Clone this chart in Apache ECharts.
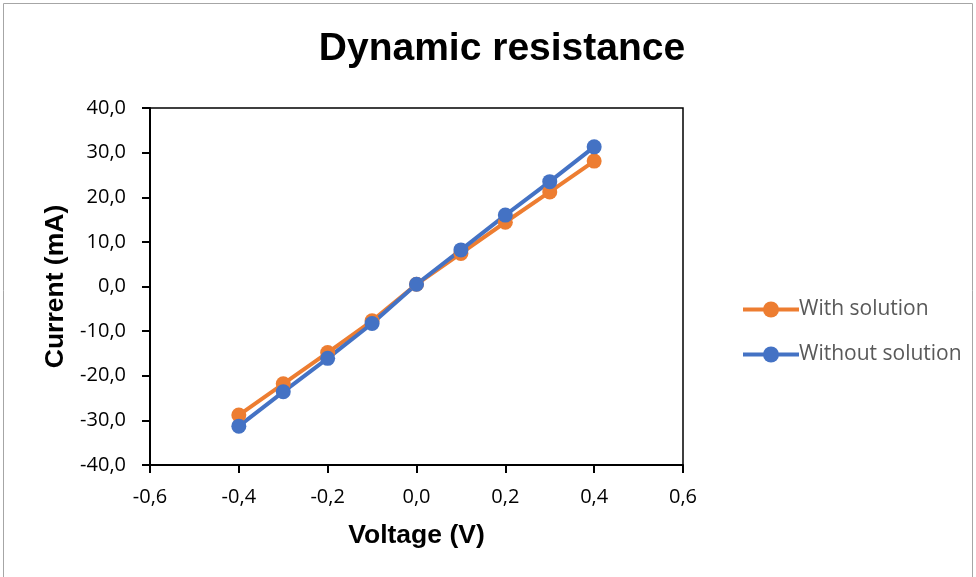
<!DOCTYPE html>
<html><head><meta charset="utf-8">
<script src="https://cdn.jsdelivr.net/npm/echarts@6/dist/echarts.min.js"></script>
<style>html,body{margin:0;padding:0;background:#fff}#c{width:976px;height:577px}</style>
</head><body><div id="c"></div>
<script>
const voltage = [-0.4, -0.3, -0.2, -0.1, 0.0, 0.1, 0.2, 0.3, 0.4];
const withSolution = [-28.8, -21.8, -14.8, -7.7, 0.5, 7.4, 14.4, 21.2, 28.1];
const withoutSolution = [-31.3, -23.6, -16.1, -8.3, 0.5, 8.2, 16.0, 23.5, 31.3];
const seriesNames = ['With solution', 'Without solution'];
const colors = ['#ED7D31', '#4472C4'];

const chart = echarts.init(document.getElementById('c'));
const fmt = v => v.toFixed(1).replace('.', ',');
const font = '"Liberation Sans", Arial, sans-serif';
const tickFont = '"Open Sans", sans-serif';
chart.setOption({
  animation: false,
  backgroundColor: '#fff',
  graphic: [{type:'rect', shape:{x:3.5,y:3.5,width:969,height:575}, style:{fill:'none', stroke:'#a6a6a6', lineWidth:1}}],
  title: {text:'Dynamic resistance', left:497, top:25, textAlign:'center',
    textStyle:{fontFamily:font, fontSize:39, fontWeight:'bold', color:'#000'}},
  grid: {left:150, top:108, width:533, height:357, show:true, borderColor:'#000', borderWidth:1.5, backgroundColor:'transparent'},
  legend: {orient:'vertical', left:736, top:294, itemGap:24, itemWidth:56, itemHeight:20,
    lineStyle:{width:4},
    textStyle:{fontFamily:tickFont, fontSize:21, color:'#595959', padding:[0,0,0,-5]},
    data: seriesNames},
  xAxis: {type:'value', min:-0.6, max:0.6, interval:0.2,
    name:'Voltage (V)', nameLocation:'middle', nameGap:57,
    nameTextStyle:{fontFamily:font, fontSize:26.5, fontWeight:'bold', color:'#000'},
    axisLine:{onZero:false, lineStyle:{color:'#000', width:2}},
    axisTick:{show:true, length:8, lineStyle:{color:'#000', width:2}},
    axisLabel:{fontFamily:tickFont, fontSize:20, color:'#000', margin:22, formatter: v => fmt(v)},
    splitLine:{show:false}},
  yAxis: {type:'value', min:-40, max:40, interval:10,
    name:'Current (mA)', nameLocation:'middle', nameGap:81, nameRotate:90,
    nameTextStyle:{fontFamily:font, fontSize:26.5, fontWeight:'bold', color:'#000'},
    axisLine:{show:true, onZero:false, lineStyle:{color:'#000', width:2}},
    axisTick:{show:true, length:8, lineStyle:{color:'#000', width:2}},
    axisLabel:{fontFamily:tickFont, fontSize:20, color:'#000', margin:24, formatter: v => fmt(v)},
    splitLine:{show:false}},
  series: [
    {name:seriesNames[0], type:'line', data: voltage.map((x,i)=>[x, withSolution[i]]),
     color:colors[0], lineStyle:{width:4}, symbol:'circle', symbolSize:15, itemStyle:{color:colors[0]}},
    {name:seriesNames[1], type:'line', data: voltage.map((x,i)=>[x, withoutSolution[i]]),
     color:colors[1], lineStyle:{width:4}, symbol:'circle', symbolSize:15, itemStyle:{color:colors[1]}}
  ]
});
</script></body></html>
